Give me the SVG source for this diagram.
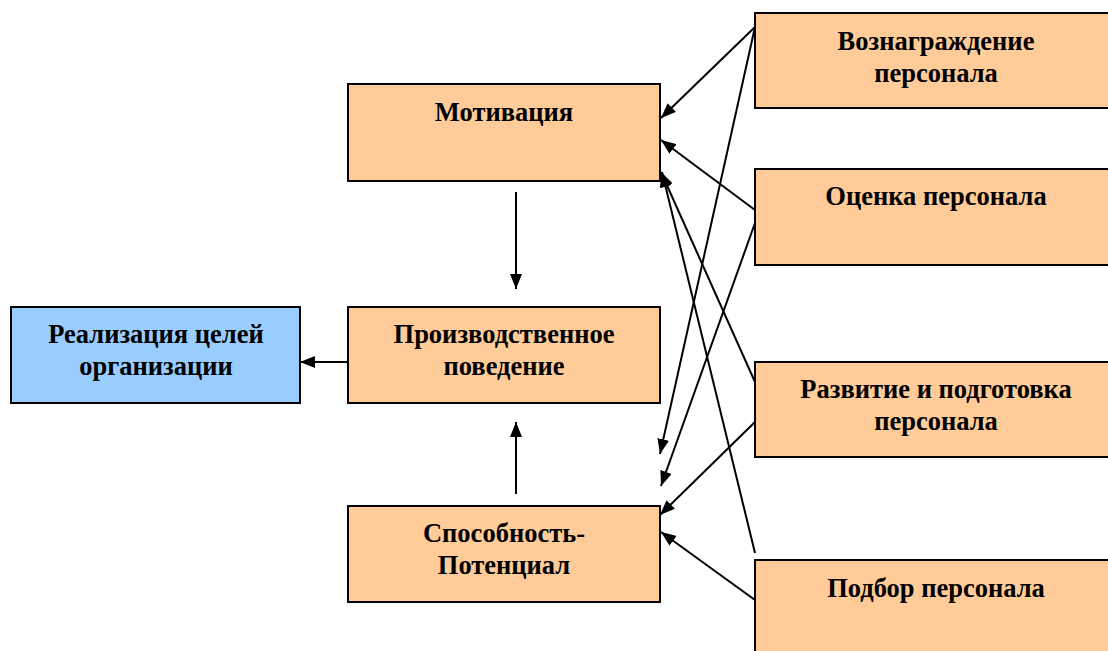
<svg xmlns="http://www.w3.org/2000/svg" width="1108" height="651" viewBox="0 0 1108 651">
<style>
.box{fill:#FFCC99;stroke:#000;stroke-width:2}
.blue{fill:#99CCFF;stroke:#000;stroke-width:2}
.t{font-family:"Liberation Serif","Times New Roman",serif;font-weight:bold;font-size:26.5px;text-anchor:middle;fill:#000}
.c{stroke:#000;stroke-width:2;fill:none;marker-end:url(#ah)}
</style>
<defs>
<marker id="ah" viewBox="0 0 15 12" refX="15" refY="6" markerWidth="7.5" markerHeight="6" orient="auto" markerUnits="strokeWidth">
<path d="M0,0 L15,6 L0,12 Z" fill="#000"/>
</marker>
</defs>
<rect width="1108" height="651" fill="#fff"/>
<g id="connectors">
<line class="c" x1="755" y1="27" x2="661" y2="118"/>
<line class="c" x1="755" y1="27" x2="660" y2="454"/>
<line class="c" x1="755" y1="210" x2="661" y2="140"/>
<line class="c" x1="755" y1="223" x2="661" y2="486"/>
<line class="c" x1="755" y1="382" x2="661" y2="172"/>
<line class="c" x1="755" y1="553" x2="662" y2="172"/>
<line class="c" x1="755" y1="422" x2="660" y2="515"/>
<line class="c" x1="755" y1="600" x2="661" y2="532"/>
<line class="c" x1="516" y1="192" x2="516" y2="289"/>
<line class="c" x1="516" y1="494" x2="516" y2="422"/>
<line class="c" x1="348" y1="362" x2="300" y2="362"/>
</g>
<g id="motivation">
<rect class="box" x="348" y="84" width="312" height="97"/>
<text class="t" x="504" y="121">Мотивация</text>
</g>
<g id="behavior">
<rect class="box" x="348" y="307" width="312" height="96"/>
<text class="t" x="504" y="343">Производственное</text>
<text class="t" x="504" y="375">поведение</text>
</g>
<g id="ability">
<rect class="box" x="348" y="506" width="312" height="96"/>
<text class="t" x="504" y="542">Способность-</text>
<text class="t" x="504" y="574">Потенциал</text>
</g>
<g id="goals">
<rect class="blue" x="11" y="307" width="289" height="96"/>
<text class="t" x="156" y="343">Реализация целей</text>
<text class="t" x="156" y="375">организации</text>
</g>
<g id="reward">
<rect class="box" x="755" y="13" width="362" height="95"/>
<text class="t" x="936" y="50">Вознаграждение</text>
<text class="t" x="936" y="82">персонала</text>
</g>
<g id="assessment">
<rect class="box" x="755" y="169" width="362" height="96"/>
<text class="t" x="936" y="205">Оценка персонала</text>
</g>
<g id="development">
<rect class="box" x="755" y="362" width="362" height="95"/>
<text class="t" x="936" y="398">Развитие и подготовка</text>
<text class="t" x="936" y="430">персонала</text>
</g>
<g id="selection">
<rect class="box" x="755" y="560" width="362" height="100"/>
<text class="t" x="936" y="597">Подбор персонала</text>
</g>
</svg>
